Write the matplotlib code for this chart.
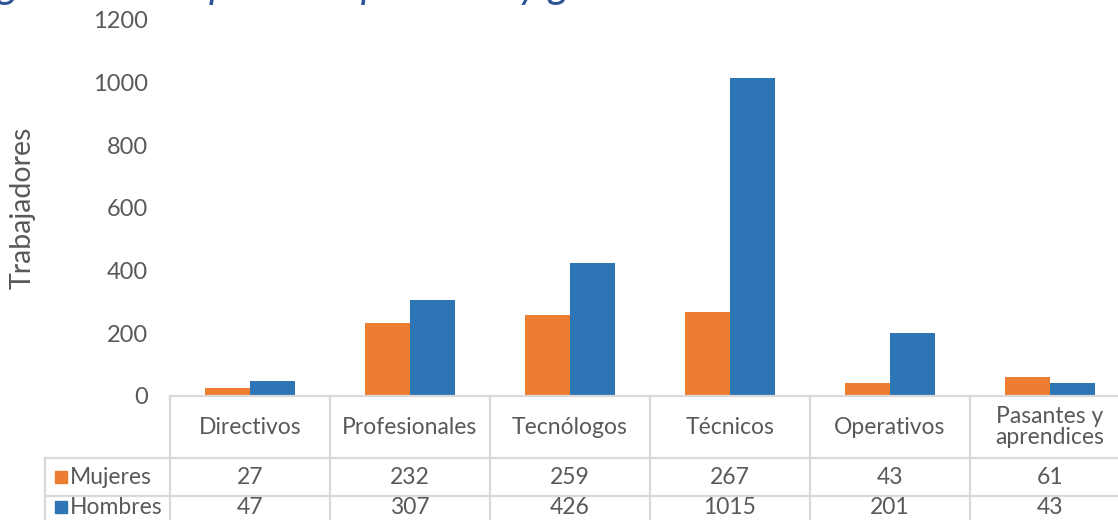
import matplotlib
matplotlib.use("Agg")
import matplotlib.pyplot as plt
import matplotlib.transforms as mtransforms
import numpy as np

plt.rcParams['font.family'] = ['Lato', 'DejaVu Sans']

# datos
categorias = ["Directivos", "Profesionales", "Tecnólogos", "Técnicos", "Operativos", "Pasantes y\naprendices"]
mujeres = [27, 232, 259, 267, 43, 61]
hombres = [47, 307, 426, 1015, 201, 43]
series = ["Mujeres", "Hombres"]
colores = ["#ED7D31", "#2E75B6"]
titulo = "Figura 2. Composición por nivel y género"

gris = "#595959"
linea = "#D9D9D9"
fs = 16.5

fig = plt.figure(figsize=(11.18, 5.2), dpi=100)
ax = fig.add_axes([170 / 1118, 1 - 396 / 520, 960 / 1118, 376 / 520])

x = np.arange(len(categorias))
w = 0.28
ax.bar(x - w / 2, mujeres, w, color=colores[0])
ax.bar(x + w / 2, hombres, w, color=colores[1])

ax.set_xlim(-0.5, len(categorias) - 0.5)
ax.set_ylim(0, 1200)
ax.set_yticks(np.arange(0, 1201, 200))
ax.tick_params(axis='y', length=0, pad=16, labelsize=17, labelcolor=gris)
ax.set_xticks([])
for s in ax.spines.values():
	s.set_visible(False)

ax.text(-0.154, 0.5, "Trabajadores", rotation=90, ha='center', va='center',
		transform=ax.transAxes, fontsize=20.5, color=gris)

# tabla de datos
trans = mtransforms.blended_transform_factory(ax.transData, ax.transAxes)
y_head = -(458 - 396) / 376
y_r1 = -(496 - 396) / 376
y_r2 = -(534 - 396) / 376
y_txt2 = -(507 - 396) / 376
x_left = (45 - 170) / 160 - 0.5
x_end = len(categorias) - 0.5
lw = 1.6

ax.plot([-0.5, x_end], [0, 0], color=linea, lw=lw, transform=trans, clip_on=False)
for yy in [y_head, y_r1]:
	ax.plot([x_left, x_end], [yy, yy], color=linea, lw=lw, transform=trans, clip_on=False)
for xx in np.arange(-0.5, x_end + 0.01, 1):
	ax.plot([xx, xx], [0, y_r2], color=linea, lw=lw, transform=trans, clip_on=False)
ax.plot([x_left, x_left], [y_head, y_r2], color=linea, lw=lw, transform=trans, clip_on=False)

for i, cat in enumerate(categorias):
	ax.text(i, y_head / 2, cat, ha='center', va='center', fontsize=fs, color=gris,
			transform=trans, linespacing=1.0)
	ax.text(i, (y_head + y_r1) / 2, str(mujeres[i]), ha='center', va='center',
			fontsize=fs, color=gris, transform=trans)
	ax.text(i, y_txt2, str(hombres[i]), ha='center', va='center',
			fontsize=fs, color=gris, transform=trans)

x_key = (61 - 170) / 160 - 0.5
x_lab = (70 - 170) / 160 - 0.5
for nombre, col, yc in zip(series, colores, [(y_head + y_r1) / 2, y_txt2]):
	ax.plot([x_key], [yc], marker='s', ms=9, color=col, transform=trans, clip_on=False)
	ax.text(x_lab, yc, nombre, ha='left', va='center', fontsize=fs, color=gris, transform=trans)

# título (cortado en el borde superior, solo se ven los trazos inferiores)
fig.text(-0.03, 1.003, titulo, ha='left', va='baseline', fontsize=30,
		 style='italic', color="#2F5597")

fig.savefig("out.png", dpi=100)
